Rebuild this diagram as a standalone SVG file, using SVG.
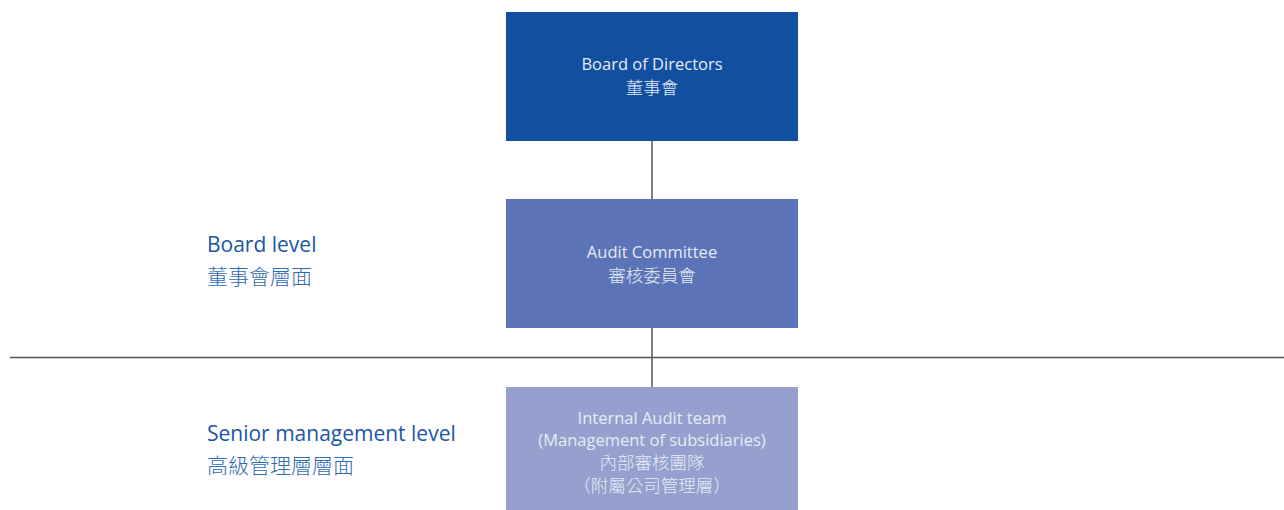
<svg xmlns="http://www.w3.org/2000/svg" width="1284" height="510" viewBox="0 0 1284 510">
<style>
.bt{font-family:"Open Sans","Noto Sans CJK TC",sans-serif;font-size:16.5px;fill:#e6ebf5;text-anchor:middle}
.bz{font-family:"Noto Sans CJK TC",sans-serif;font-size:17.5px;font-weight:300;fill:#e6ebf5;text-anchor:middle}
.lv{font-family:"Open Sans","Noto Sans CJK TC",sans-serif;font-size:21px;font-weight:500;fill:#1b55a5}
.lz{font-family:"Noto Sans CJK TC",sans-serif;font-size:21px;font-weight:300;fill:#2f6ab4}
.cn{stroke:#5a5352;stroke-width:1.5;fill:none}
</style>
<rect width="1284" height="510" fill="#ffffff"/>
<g id="connectors">
<line class="cn" x1="10" y1="357.5" x2="1284" y2="357.5"/>
<line class="cn" x1="652" y1="141" x2="652" y2="199"/>
<line class="cn" x1="652" y1="328" x2="652" y2="387"/>
</g>
<g id="board">
<rect x="506" y="12" width="292" height="129" fill="#1150a0"/>
<text class="bt" x="652" y="70">Board of Directors</text>
<text class="bz" x="652" y="94">董事會</text>
</g>
<g id="audit-committee">
<rect x="506" y="199" width="292" height="129" fill="#5c74b7"/>
<text class="bt" x="652" y="258">Audit Committee</text>
<text class="bz" x="652" y="282">審核委員會</text>
</g>
<g id="internal-audit">
<rect x="506" y="387" width="292" height="123" fill="#96a0cf"/>
<text class="bt" x="652" y="424">Internal Audit team</text>
<text class="bt" x="652" y="446">(Management of subsidiaries)</text>
<text class="bz" x="652" y="469">內部審核團隊</text>
<text class="bz" x="652" y="492">（附屬公司管理層）</text>
</g>
<g id="board-level">
<text class="lv" x="207" y="252">Board level</text>
<text class="lz" x="207" y="284">董事會層面</text>
</g>
<g id="senior-level">
<text class="lv" x="207" y="441">Senior management level</text>
<text class="lz" x="207" y="473">高級管理層層面</text>
</g>
</svg>
